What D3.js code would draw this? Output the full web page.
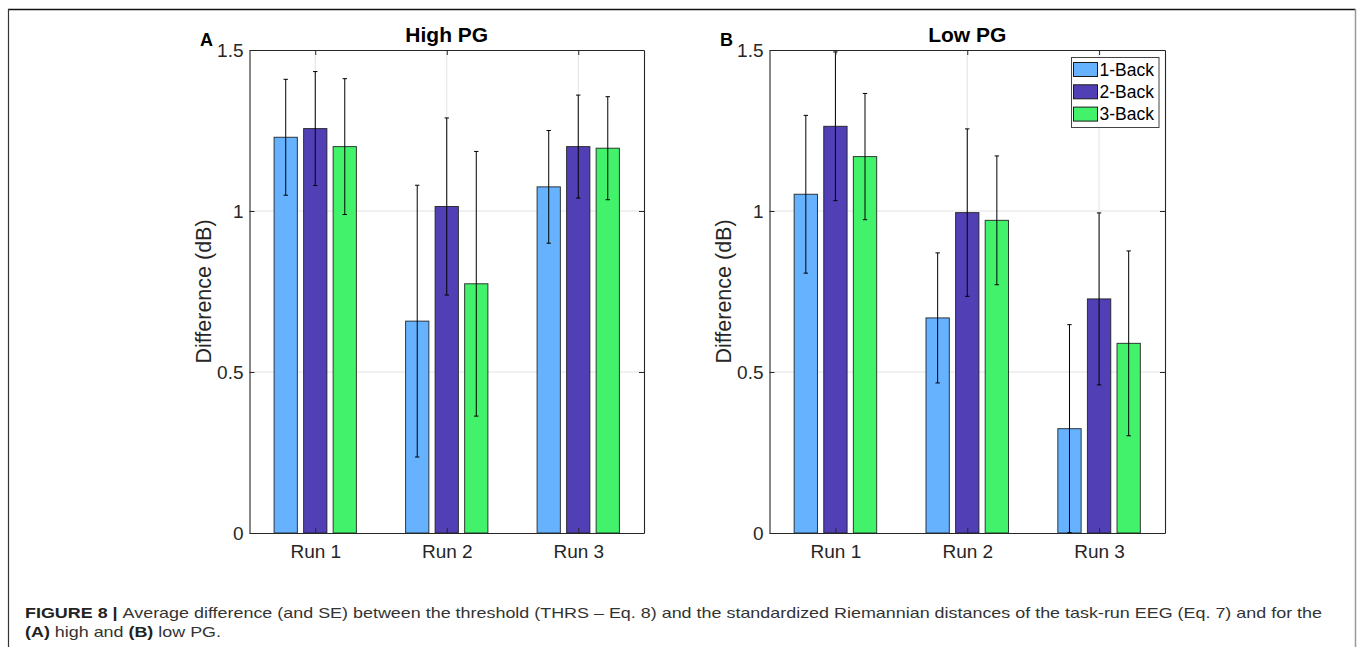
<!DOCTYPE html>
<html>
<head>
<meta charset="utf-8">
<script src="https://cdn.jsdelivr.net/npm/d3@7"></script>
<style>
  html, body { margin: 0; padding: 0; background: #fff; }
  svg { display: block; font-family: "Liberation Sans", Arial, Helvetica, sans-serif; }
</style>
</head>
<body>
<svg id="chart" width="1360" height="647"></svg>
<script>
// ---------- DATA ----------
const categories = ["Run 1", "Run 2", "Run 3"];
const seriesNames = ["1-Back", "2-Back", "3-Back"];
const yTicks = [0, 0.5, 1, 1.5];
const yTickLabels = ["0", "0.5", "1", "1.5"];

// High PG (panel A): mean per run, and SE
const highMean1Back = [1.229, 0.658, 1.075];
const highMean2Back = [1.256, 1.014, 1.200];
const highMean3Back = [1.200, 0.774, 1.195];
const highSE1Back   = [0.180, 0.422, 0.175];
const highSE2Back   = [0.177, 0.275, 0.160];
const highSE3Back   = [0.211, 0.411, 0.160];

// Low PG (panel B)
const lowMean1Back = [1.052, 0.668, 0.324];
const lowMean2Back = [1.263, 0.995, 0.727];
const lowMean3Back = [1.169, 0.971, 0.589];
const lowSE1Back   = [0.245, 0.202, 0.323];
const lowSE2Back   = [0.231, 0.260, 0.267];
const lowSE3Back   = [0.196, 0.200, 0.287];

const seriesColors = ["#66b2ff", "#5140b5", "#43f26b"];

// ---------- LAYOUT ----------
const svg = d3.select("#chart");
const textColor = "#262626";

const panels = [
  { letter: "A", title: "High PG", left: 249.5, right: 644, top: 50, bottom: 533,
    means: [highMean1Back, highMean2Back, highMean3Back],
    ses: [highSE1Back, highSE2Back, highSE3Back], legend: false },
  { letter: "B", title: "Low PG", left: 769.5, right: 1165, top: 50, bottom: 533,
    means: [lowMean1Back, lowMean2Back, lowMean3Back],
    ses: [lowSE1Back, lowSE2Back, lowSE3Back], legend: true }
];

// outer frame
svg.append("line").attr("x1", 8).attr("x2", 1355.5).attr("y1", 9.5).attr("y2", 9.5)
  .attr("stroke", "#111").attr("stroke-width", 1.5);
svg.append("line").attr("x1", 8.5).attr("x2", 8.5).attr("y1", 9).attr("y2", 647)
  .attr("stroke", "#333").attr("stroke-width", 1.2);
svg.append("line").attr("x1", 1355.5).attr("x2", 1355.5).attr("y1", 9).attr("y2", 647)
  .attr("stroke", "#999").attr("stroke-width", 1.5);

const groupOffset = 0.2245;
const barWidthCat = 0.177;

panels.forEach(p => {
  const x = d3.scaleLinear().domain([0.5, 3.5]).range([p.left, p.right]);
  const y = d3.scaleLinear().domain([0, 1.5]).range([p.bottom, p.top]);
  const g = svg.append("g");

  // grid
  g.selectAll(".hgrid").data(yTicks.filter(v => v > 0 && v < 1.5)).enter().append("line")
    .attr("x1", p.left).attr("x2", p.right)
    .attr("y1", d => y(d)).attr("y2", d => y(d))
    .attr("stroke", "#e2e2e2").attr("stroke-width", 1);
  g.selectAll(".vgrid").data([1, 2, 3]).enter().append("line")
    .attr("x1", d => x(d)).attr("x2", d => x(d))
    .attr("y1", p.top).attr("y2", p.bottom)
    .attr("stroke", "#e2e2e2").attr("stroke-width", 1);

  // bars
  const bw = x(1 + barWidthCat) - x(1);
  p.means.forEach((vals, s) => {
    const off = (s - 1) * groupOffset;
    g.selectAll(".bar" + s).data(vals).enter().append("rect")
      .attr("x", (d, i) => x(i + 1 + off) - bw / 2)
      .attr("width", bw)
      .attr("y", d => y(d))
      .attr("height", d => y(0) - y(d))
      .attr("fill", seriesColors[s])
      .attr("stroke", "#1a1a1a").attr("stroke-opacity", 0.85).attr("stroke-width", 1);
  });

  // error bars
  p.means.forEach((vals, s) => {
    const off = (s - 1) * groupOffset;
    const se = p.ses[s];
    vals.forEach((m, i) => {
      const cx = x(i + 1 + off);
      const lo = y(Math.max(0, m - se[i])), hi = y(m + se[i]);
      g.append("line").attr("x1", cx).attr("x2", cx).attr("y1", lo).attr("y2", hi)
        .attr("stroke", "#000").attr("stroke-width", 1);
      [lo, hi].forEach(yy => g.append("line")
        .attr("x1", cx - 2.2).attr("x2", cx + 2.2).attr("y1", yy).attr("y2", yy)
        .attr("stroke", "#000").attr("stroke-width", 1));
    });
  });

  // axes (box with inward ticks)
  const styleAxis = sel => {
    sel.selectAll("path.domain").attr("stroke", textColor).attr("stroke-width", 1.1);
    sel.selectAll(".tick line").attr("stroke", textColor).attr("stroke-width", 1);
    sel.selectAll(".tick text").attr("fill", textColor)
      .style("font-family", '"Liberation Sans", Arial, sans-serif').style("font-size", "19px");
  };
  const axL = g.append("g").attr("transform", `translate(${p.left},0)`)
    .call(d3.axisLeft(y).tickValues(yTicks).tickFormat((d, i) => yTickLabels[i])
      .tickSizeInner(-5).tickSizeOuter(0).tickPadding(6));
  styleAxis(axL);
  const axR = g.append("g").attr("transform", `translate(${p.right},0)`)
    .call(d3.axisRight(y).tickValues(yTicks).tickFormat("").tickSizeInner(-5).tickSizeOuter(0));
  styleAxis(axR);
  const axB = g.append("g").attr("transform", `translate(0,${p.bottom})`)
    .call(d3.axisBottom(x).tickValues([1, 2, 3]).tickFormat(d => categories[d - 1])
      .tickSizeInner(-5).tickSizeOuter(0).tickPadding(12));
  styleAxis(axB);
  const axT = g.append("g").attr("transform", `translate(0,${p.top})`)
    .call(d3.axisTop(x).tickValues([1, 2, 3]).tickFormat("").tickSizeInner(-5).tickSizeOuter(0));
  styleAxis(axT);

  // y label
  g.append("text")
    .attr("transform", `translate(${p.left - 46},${(p.top + p.bottom) / 2}) rotate(-90)`)
    .attr("text-anchor", "middle").attr("dy", "0.35em")
    .attr("fill", textColor).style("font-size", "21.5px")
    .text("Difference (dB)");

  // title
  g.append("text").attr("x", (p.left + p.right) / 2).attr("y", 41.7)
    .attr("text-anchor", "middle").attr("fill", "#000")
    .style("font-size", "21px").style("font-weight", "bold").text(p.title);

  // panel letter
  g.append("text").attr("x", p.left - 43).attr("y", 45.5)
    .attr("text-anchor", "middle").attr("fill", "#000")
    .style("font-size", "18px").style("font-weight", "bold").text(p.letter);

  // legend
  if (p.legend) {
    const lg = g.append("g");
    lg.append("rect").attr("x", 1071.5).attr("y", 57.5).attr("width", 87.5).attr("height", 70)
      .attr("fill", "#fff").attr("stroke", "#444").attr("stroke-width", 1);
    seriesNames.forEach((name, s) => {
      const cy = 69.5 + s * 22.3;
      lg.append("rect").attr("x", 1073.5).attr("y", cy - 7).attr("width", 24).attr("height", 14)
        .attr("fill", seriesColors[s]).attr("stroke", "#1a1a1a").attr("stroke-width", 1);
      lg.append("text").attr("x", 1099.5).attr("y", cy).attr("dy", "0.36em")
        .attr("fill", "#000").style("font-size", "17.5px").text(name);
    });
  }
});

// caption
const cap1 = svg.append("text").attr("x", 25).attr("y", 617.5)
  .attr("fill", "#333").style("font-size", "15px")
  .attr("textLength", 1297).attr("lengthAdjust", "spacingAndGlyphs");
cap1.append("tspan").style("font-weight", "bold").attr("fill", "#222").text("FIGURE 8 | ");
cap1.append("tspan").text("Average difference (and SE) between the threshold (THRS \u2013 Eq. 8) and the standardized Riemannian distances of the task-run EEG (Eq. 7) and for the");

const cap2 = svg.append("text").attr("x", 25).attr("y", 636.5)
  .attr("fill", "#333").style("font-size", "15px")
  .attr("textLength", 196).attr("lengthAdjust", "spacingAndGlyphs");
cap2.append("tspan").style("font-weight", "bold").attr("fill", "#222").text("(A)");
cap2.append("tspan").text(" high and ");
cap2.append("tspan").style("font-weight", "bold").attr("fill", "#222").text("(B)");
cap2.append("tspan").text(" low PG.");
</script>
</body>
</html>
